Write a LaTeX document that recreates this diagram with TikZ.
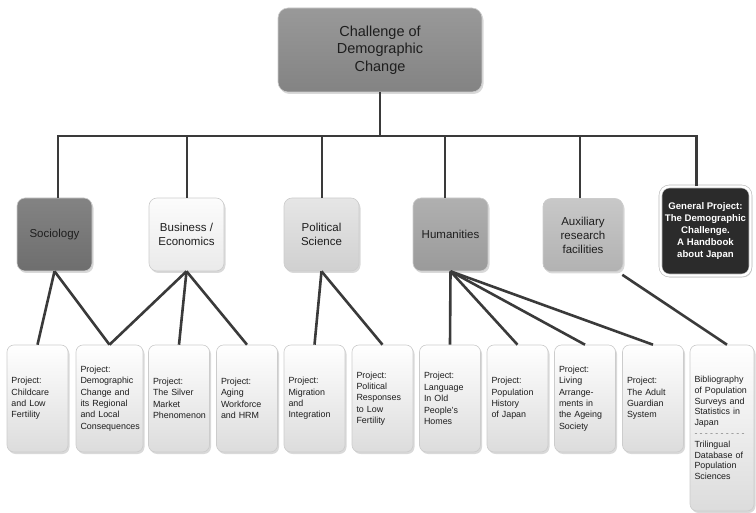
\documentclass[tikz,border=0pt]{standalone}
\usepackage{fontspec}
\setmainfont{Liberation Sans}
\usetikzlibrary{shadows}

\definecolor{darkline}{HTML}{3A3A3A}
\definecolor{textgray}{HTML}{1E1E1E}
\definecolor{topA}{HTML}{999999}
\definecolor{topB}{HTML}{838383}
\definecolor{socA}{HTML}{838383}
\definecolor{socB}{HTML}{6E6E6E}
\definecolor{busA}{HTML}{FCFCFC}
\definecolor{busB}{HTML}{EAEAEA}
\definecolor{polA}{HTML}{E6E6E6}
\definecolor{polB}{HTML}{D0D0D0}
\definecolor{humA}{HTML}{B0B0B0}
\definecolor{humB}{HTML}{9A9A9A}
\definecolor{auxA}{HTML}{C8C8C8}
\definecolor{auxB}{HTML}{B2B2B2}
\definecolor{genfill}{HTML}{2B2B2B}
\definecolor{projB}{HTML}{DCDCDC}

\begin{document}
\begin{tikzpicture}[
    x=1pt,
    y=-1pt,
    box/.style={
        rectangle,
        rounded corners=8pt,
        draw=gray!40,
        line width=0.6pt,
        align=center,
        inner sep=2pt,
        text=textgray,
        drop shadow={opacity=0.3, shadow xshift=1.5pt, shadow yshift=-2pt}
    },
    field/.style={
        box,
        minimum width=75pt,
        minimum height=73pt,
        font=\fontsize{11.5}{14}\selectfont
    },
    project/.style={
        box,
        rounded corners=7pt,
        minimum width=61pt,
        minimum height=107pt,
        text width=52pt,
        inner xsep=4.5pt,
        align=left,
        top color=white,
        bottom color=projB,
        font=\fontsize{8.9}{11.4}\selectfont
    },
    link/.style={
        draw=darkline,
        line width=2.6pt
    }
]
\useasboundingbox (0,0) rectangle (756,513);

% Root
\node[box, rounded corners=10pt, minimum width=204pt, minimum height=84pt,
      top color=topA, bottom color=topB,
      font=\fontsize{14.5}{17.5}\selectfont] (top) at (380,50)
      {Challenge of\\Demographic\\Change};
\coordinate (bar) at (380,136);

% Disciplines
\node[field, top color=socA, bottom color=socB] (soc) at (54.5,234.5) {Sociology};
\node[field, top color=busA, bottom color=busB] (bus) at (186.5,234.5) {Business /\\Economics};
\node[field, top color=polA, bottom color=polB] (pol) at (321.5,234.5) {Political\\Science};
\node[field, top color=humA, bottom color=humB] (hum) at (450.5,234.5) {Humanities};
\node[field, minimum width=80pt, top color=auxA, bottom color=auxB] (aux) at (583,235)
      {Auxiliary\\research\\facilities};
\node[box, rounded corners=9pt, minimum width=90pt, minimum height=89pt,
      fill=genfill, text=white, draw=gray!55, double=white, double distance=2.4pt,
      font=\fontsize{9.6}{12}\selectfont\bfseries] (gen) at (705.5,231)
      {General Project:\\The Demographic\\Challenge.\\A Handbook\\about Japan};

% Projects
\node[project] (childcare) at (37.5,398.5) {Project:\\Childcare\\and Low\\Fertility};
\node[project, minimum width=67pt, text width=58pt] (demo) at (109.5,398.5)
      {Project:\\Demographic\\Change and\\its Regional\\and Local\\Consequences};
\node[project] (silver) at (179,398.5) {Project:\\The Silver\\Market\\Phenomenon};
\node[project] (aging) at (247,398.5) {Project:\\Aging\\Workforce\\and HRM};
\node[project] (migration) at (314.5,398.5) {Project:\\Migration\\and\\Integration};
\node[project] (polresp) at (382.5,398.5)
      {Project:\\Political\\Responses\\to Low\\Fertility};
\node[project] (language) at (450,398.5)
      {Project:\\Language\\In Old\\People’s\\Homes};
\node[project] (pophist) at (517.5,398.5) {Project:\\Population\\History\\of Japan};
\node[project] (living) at (585,398.5)
      {Project:\\Living\\Arrange-\\ments in\\the Ageing\\Society};
\node[project] (guardian) at (653,398.5) {Project:\\The Adult\\Guardian\\System};
\node[project, minimum width=64pt, text width=55pt, minimum height=166pt,
      font=\fontsize{8.9}{10.8}\selectfont] (biblio) at (722,428)
      {Bibliography\\of Population\\Surveys and\\Statistics in\\Japan\\
       \leavevmode\hbox to 50pt{\color{gray}-\hfill-\hfill-\hfill-\hfill-\hfill-\hfill-\hfill-\hfill-\hfill-}\\
       Trilingual\\Database of\\Population\\Sciences};

% Tree lines
\draw[link] (top.south) -- (bar);
\foreach \n/\s in {soc/3.5, bus/0.5, pol/0.5, hum/-5.5, aux/-3, gen/-9}
    \draw[link] ([xshift=\s pt]\n.north) |- (bar);

% Project links
\foreach \c in {childcare, demo}
    \draw[link] (soc.south) -- (\c.north);
\foreach \c in {demo, silver, aging}
    \draw[link] (bus.south) -- (\c.north);
\foreach \c in {migration, polresp}
    \draw[link] (pol.south) -- (\c.north);
\foreach \c in {language, pophist, living, guardian}
    \draw[link] (hum.south) -- (\c.north);
\draw[link] ([shift={(-1pt,-3pt)}]aux.south east) -- ([xshift=5pt]biblio.north);

\end{tikzpicture}
\end{document}
